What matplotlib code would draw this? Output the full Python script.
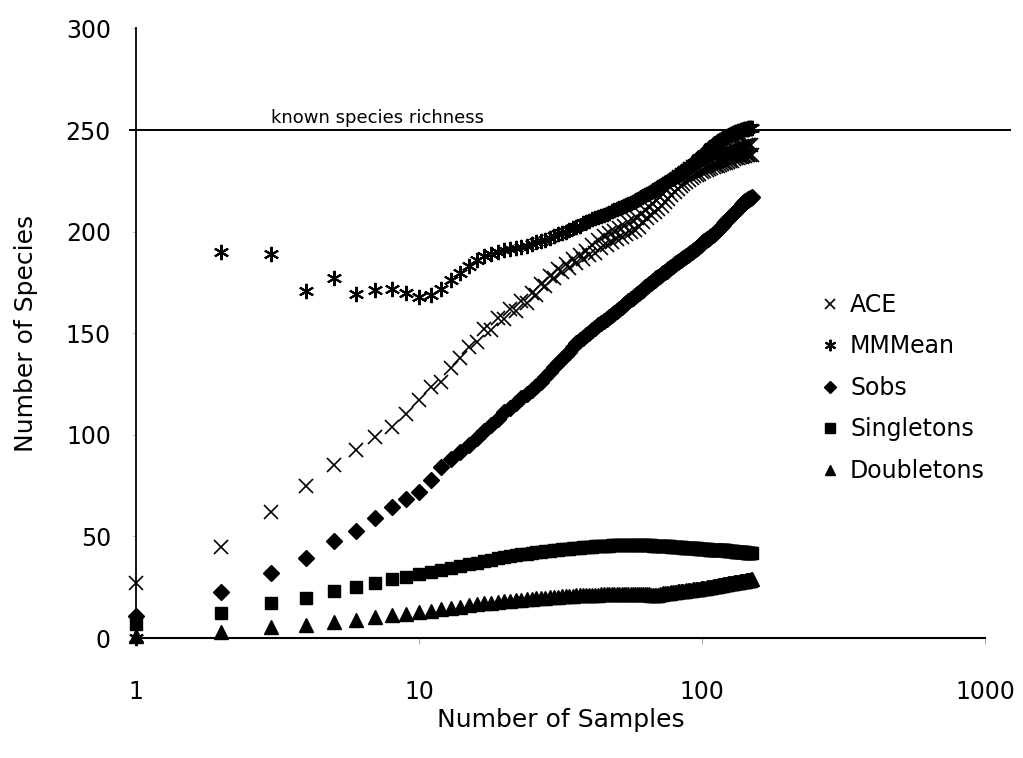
import numpy as np
import matplotlib.pyplot as plt

samples = np.arange(1, 151)

ace = [27, 45, 62, 75, 85, 92.5, 99, 104, 110, 117,
       123.5, 126, 133, 138, 143, 145.5, 152, 151.5, 157.5, 157,
       162, 161, 166, 165, 170, 169, 174, 173, 178, 177,
       181.5, 180, 184, 182, 186.5, 184.5, 188.5, 186.5, 190.5, 188.5,
       193.5, 189.5, 196, 192, 198, 193.5, 199.5, 195, 200.5, 196.5,
       202, 197.5, 203, 199, 204.5, 200, 205.5, 201, 206.5, 202.5,
       208.5, 204.5, 210.5, 206.5, 212, 208, 213.5, 209.5, 215.5, 211,
       217, 212.5, 218.5, 214.5, 220.5, 216, 222, 218, 223.5, 219.5,
       225.5, 221, 227, 222.5, 228, 223.5, 229, 224.5, 230, 225.5,
       231, 226.5, 232, 227.5, 232.5, 228, 233.5, 228.5, 234, 229.5,
       234.5, 230, 235, 230.5, 235.5, 231, 236, 231.5, 236.5, 232,
       237, 232.5, 237.5, 232.5, 238, 233, 238.5, 233.5, 238.5, 234,
       239, 234, 239.5, 234.5, 239.5, 235, 240, 235, 240.5, 235.5,
       240.5, 236, 241, 236, 241.5, 236.5, 241.5, 236.5, 242, 237,
       242, 237, 242.5, 237.5, 242.5, 237.5, 242.5, 237.5, 242.5, 237.5]

mmmean = [0, 190, 189, 171, 177, 169.5, 171.5, 172, 170, 168,
          169, 172, 176, 179.5, 183, 186, 188, 189, 190, 191,
          191.5, 192, 192.5, 193, 194, 195, 195.5, 196, 197, 198,
          199, 199.5, 200, 201, 202, 202.5, 203, 204, 204.5, 205,
          206, 206.5, 207, 207.5, 208, 208.5, 209, 210, 210.5, 211,
          211.5, 212, 212.5, 213, 213.5, 214, 214.5, 215, 215.5, 216,
          217, 217.5, 218, 218.5, 219, 219.5, 220, 220.5, 221, 222,
          222.5, 223, 223.5, 224, 224.5, 225, 225.5, 226, 226.5, 227,
          227.5, 228, 228.5, 229, 229.5, 230, 230.5, 231, 231.5, 232,
          232.5, 233, 233.5, 234, 234.5, 235, 235.5, 236, 236.5, 237,
          237.5, 238, 238.5, 239, 239.5, 240, 241, 241.5, 242, 242.5,
          243, 243, 243.5, 244, 244.5, 245, 245, 245.5, 246, 246,
          246.5, 246.5, 247, 247, 247.5, 247.5, 248, 248, 248.5, 248.5,
          249, 249, 249, 249.5, 249.5, 249.5, 250, 250, 250, 250,
          250.5, 250.5, 250.5, 250.5, 250.5, 251, 251, 251, 251, 251]

sobs = [11, 22.5, 32, 39.5, 47.5, 52.5, 59, 64.5, 68.5, 72,
        78, 84, 88, 91.5, 95, 98.5, 102, 105, 108, 111,
        113, 115.5, 118, 120, 122, 124, 126, 128.5, 131, 133.5,
        135.5, 137.5, 139.5, 141, 143, 145, 146.5, 147.5, 149, 150,
        151.5, 152.5, 154, 155, 156, 157, 158, 159, 160, 161,
        162, 163, 164, 165, 166, 167, 167.5, 168.5, 169.5, 170,
        171, 171.5, 172.5, 173, 174, 174.5, 175.5, 176, 177, 177.5,
        178, 179, 179.5, 180, 180.5, 181.5, 182, 182.5, 183, 184,
        184.5, 185, 185.5, 186, 186.5, 187, 187.5, 188, 188.5, 189,
        189.5, 190, 190.5, 191, 191.5, 192, 192.5, 193, 193.5, 194.5,
        195, 195.5, 196, 196.5, 196.5, 197, 197.5, 198, 198.5, 199,
        199.5, 200, 200.5, 201, 201.5, 202, 202.5, 203, 203.5, 204,
        204.5, 205, 205.5, 206, 206.5, 207, 207.5, 208, 208.5, 209,
        209.5, 210, 210.5, 211, 211.5, 212, 212.5, 213, 213.5, 214,
        214.5, 215, 215, 215.5, 215.5, 216, 216, 216.5, 216.5, 217]

singletons = [7, 12.5, 17, 19.5, 23, 25, 27, 29, 30, 31.5,
              32.5, 33.5, 34.5, 35.5, 36.5, 37, 38, 38.5, 39.5, 40,
              40.5, 41, 41.5, 41.5, 42, 42.5, 42.5, 43, 43, 43.5,
              43.5, 44, 44, 44, 44.5, 44.5, 44.5, 45, 45, 45,
              45, 45.5, 45.5, 45.5, 45.5, 45.5, 45.5, 46, 46, 46,
              46, 46, 46, 46, 46, 46, 46, 46, 46, 46,
              46, 46, 46, 46, 46, 46, 45.5, 45.5, 45.5, 45.5,
              45.5, 45.5, 45.5, 45.5, 45.5, 45.5, 45.5, 45, 45, 45,
              45, 45, 45, 45, 45, 44.5, 44.5, 44.5, 44.5, 44.5,
              44.5, 44.5, 44.5, 44.5, 44.5, 44.5, 44, 44, 44, 44,
              44, 44, 44, 44, 44, 43.5, 43.5, 43.5, 43.5, 43.5,
              43.5, 43.5, 43.5, 43.5, 43.5, 43.5, 43.5, 43.5, 43.5, 43.5,
              43.5, 43.5, 43, 43, 43, 43, 43, 43, 43, 43,
              42.5, 42.5, 42.5, 42.5, 42.5, 42.5, 42.5, 42.5, 42.5, 42.5,
              42.5, 42.5, 42, 42, 42, 42, 42, 42, 42, 42]

doubletons = [1, 3, 5.5, 6.5, 8, 9, 10.5, 11.5, 12, 13,
              13.5, 14.5, 15, 15.5, 16, 16.5, 17, 17, 17.5, 18,
              18, 18.5, 18.5, 19, 19, 19.5, 19.5, 19.5, 20, 20,
              20, 20.5, 20.5, 20.5, 20.5, 21, 21, 21, 21, 21,
              21, 21, 21, 21.5, 21.5, 21.5, 21.5, 21.5, 21.5, 21.5,
              21.5, 21.5, 21.5, 21.5, 21.5, 21.5, 21.5, 21.5, 21.5, 21.5,
              21.5, 21.5, 21.5, 21.5, 21.5, 21, 21, 21, 21, 21,
              21.5, 21.5, 22, 22, 22, 22, 22, 22.5, 22.5, 22.5,
              22.5, 23, 23, 23, 23, 23, 23, 23.5, 23.5, 23.5,
              23.5, 23.5, 24, 24, 24, 24, 24, 24, 24.5, 24.5,
              24.5, 24.5, 24.5, 25, 25, 25, 25, 25, 25.5, 25.5,
              25.5, 25.5, 25.5, 26, 26, 26, 26, 26, 26.5, 26.5,
              26.5, 26.5, 26.5, 27, 27, 27, 27, 27, 27, 27.5,
              27.5, 27.5, 27.5, 27.5, 27.5, 28, 28, 28, 28, 28,
              28, 28, 28.5, 28.5, 28.5, 28.5, 28.5, 28.5, 29, 29]

known_richness = 250

fig = plt.figure(figsize=(10.23, 7.58), dpi=100)
ax = fig.add_axes([0.1329, 0.1583, 0.8299, 0.8042])

# series drawn as markers only, all black
ax.plot(samples, ace, ls='none', marker='x', ms=9.5, mew=1.2, color='k', clip_on=False, label='ACE')
ax.plot(samples, mmmean, ls='none', marker=(6, 2, 0), ms=11, mew=1.5, color='k', clip_on=False, label='MMMean')
ax.plot(samples, sobs, ls='none', marker='D', ms=8, color='k', clip_on=False, label='Sobs')
ax.plot(samples, singletons, ls='none', marker='s', ms=9, color='k', clip_on=False, label='Singletons')
ax.plot(samples, doubletons, ls='none', marker='^', ms=10, color='k', clip_on=False, label='Doubletons')

ax.axhline(known_richness, xmin=-0.007, xmax=1.03, color='k', lw=1.4, clip_on=False)
ax.text(3.0, known_richness + 3.5, 'known species richness', fontsize=13, va='baseline')

ax.set_xscale('log')
ax.set_xlim(1, 1000)
ax.set_ylim(0, 300)
ax.set_xticks([1, 10, 100, 1000])
ax.set_xticklabels(['1', '10', '100', '1000'])
ax.minorticks_off()
ax.set_yticks([0, 50, 100, 150, 200, 250, 300])

for s in ['top', 'right']:
    ax.spines[s].set_visible(False)
ax.spines['left'].set_linewidth(1.3)
ax.spines['bottom'].set_linewidth(1.5)

ax.tick_params(axis='x', length=4, width=0.6, color='0.6', pad=26, labelsize=17)
ax.tick_params(axis='y', length=3, width=0.5, color='0.7', pad=15, labelsize=17)

ax.set_xlabel('Number of Samples', fontsize=18)
ax.set_ylabel('Number of Species', fontsize=18)
ax.xaxis.set_label_coords(0.5, -0.115)
ax.yaxis.set_label_coords(-0.1154, 0.5)

ax.legend(loc='upper left', bbox_to_anchor=(820.6 / 1023, 1 - 293 / 758),
          bbox_transform=fig.transFigure, frameon=False, fontsize=17,
          handlelength=0.8, handletextpad=0.45, labelspacing=0.74,
          borderpad=0, borderaxespad=0, markerscale=0.75)

fig.savefig('out.png', dpi=100)
